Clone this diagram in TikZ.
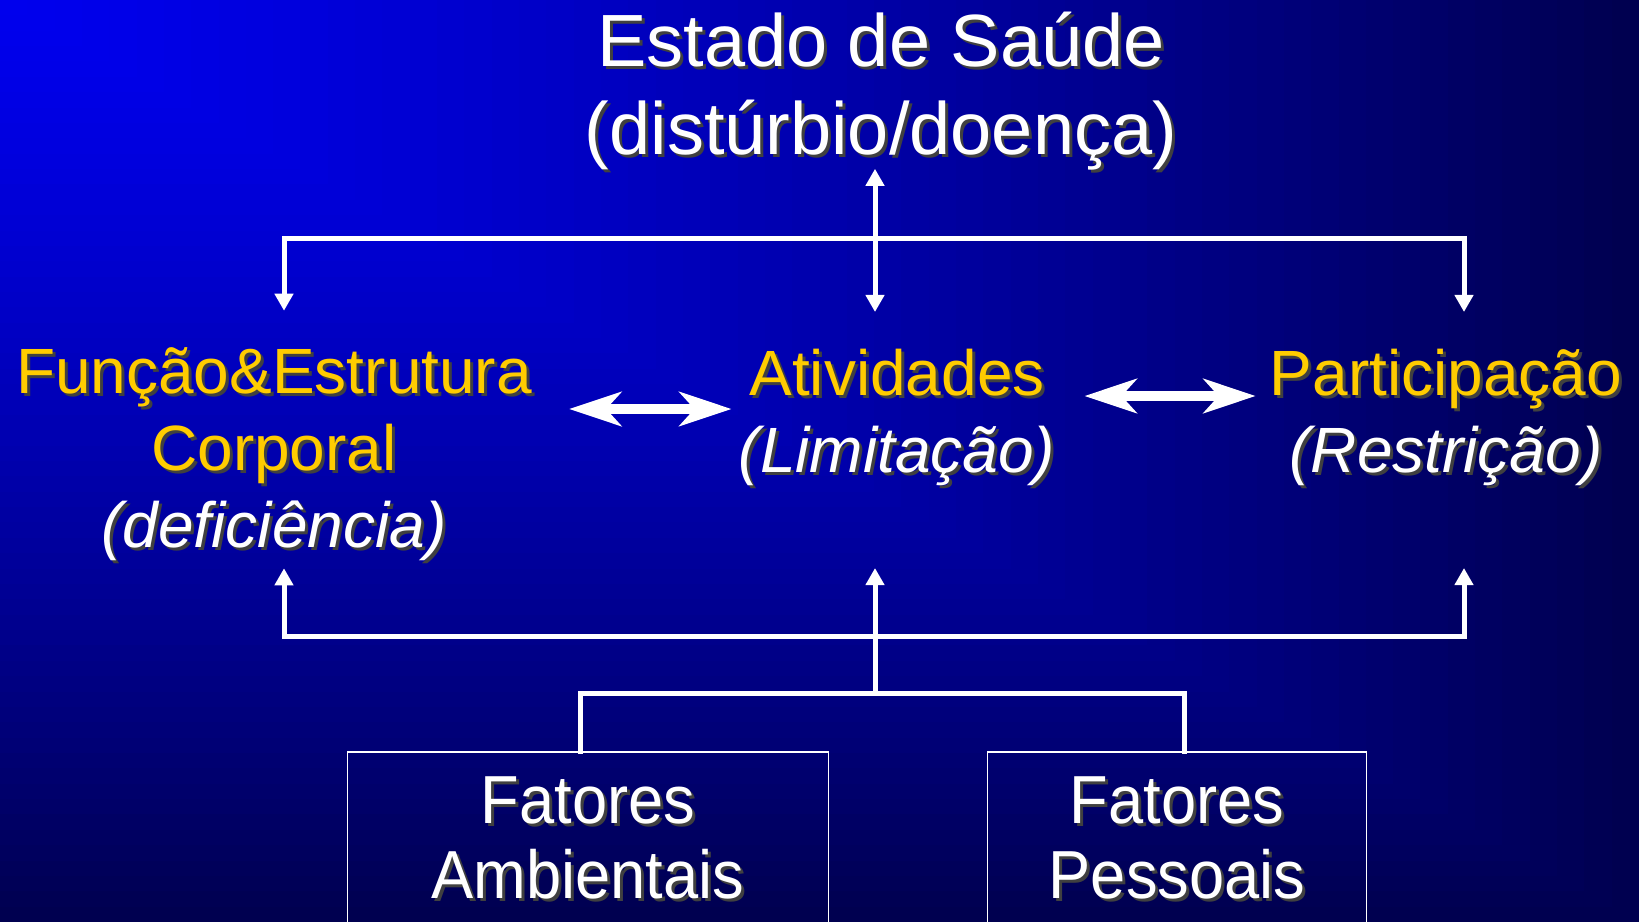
\documentclass[tikz,border=0pt]{standalone}
\usepackage{fontspec}
\setmainfont{Liberation Sans}
\newfontfamily\narrowsans[FakeStretch=0.93]{Liberation Sans}
\usetikzlibrary{arrows.meta}
\definecolor{bgtop}{RGB}{0,0,238}
\definecolor{bgbot}{RGB}{0,0,80}
\definecolor{icfyellow}{RGB}{255,204,0}
% text with a dark drop shadow
\newcommand{\shtxt}[2]{\leavevmode\rlap{\kern3pt\raisebox{-3pt}{\color{black!75}#2}}{\color{#1}#2}}
\begin{document}
\begin{tikzpicture}[x=1pt, y=-1pt,
  lbl/.style={inner sep=0pt, align=center, font=\fontsize{64}{77}\selectfont},
  link/.style={white, line width=5pt, line cap=rect},
  arrowend/.style={-{Triangle[length=17pt,width=18pt]}},
  bigarrow/.style={white, line width=10pt, {Stealth[length=52pt,width=34pt,inset=15pt]}-{Stealth[length=52pt,width=34pt,inset=15pt]}},
  factor/.style={draw=white, line width=1.5pt, inner sep=0pt, align=center, anchor=north, minimum height=176pt, font=\narrowsans\fontsize{68}{75}\selectfont}]
\useasboundingbox (0,0) rectangle (1639,922);
% background, brightest in the upper left corner
\foreach \i in {0,...,59}{
  \pgfmathsetmacro{\s}{1-\i/60}
  \pgfmathsetmacro{\p}{100*(1-\s^1.3)}
  \fill[bgtop!\p!bgbot] (0,0) rectangle (1639*\s,922*\s);
}
\node[lbl, font=\fontsize{74}{88}\selectfont] (saude) at (881,93) {\shtxt{white}{Estado de Saúde}\\\shtxt{white}{(distúrbio/doença)}};
\node[lbl] (funcao) at (274,456) {\shtxt{icfyellow}{Função\&Estrutura}\\\shtxt{icfyellow}{Corporal}\\\shtxt{white}{\itshape(deficiência)}};
\node[lbl] (ativ) at (897,419) {\shtxt{icfyellow}{Atividades}\\\shtxt{white}{\itshape(Limitação)}};
\node[lbl] (partic) at (1446,419) {\shtxt{icfyellow}{Participação}\\\shtxt{white}{\itshape(Restrição)}};
\node[factor, minimum width=481pt] (amb) at (588,751) {\shtxt{white}{Fatores}\\\shtxt{white}{Ambientais}};
\node[factor, minimum width=379pt] (pes) at (1177,751) {\shtxt{white}{Fatores}\\\shtxt{white}{Pessoais}};
\coordinate (tl) at (284,238);
\coordinate (tm) at (875,238);
\coordinate (tr) at (1464,238);
\coordinate (bl) at (284,636);
\coordinate (bm) at (875,636);
\coordinate (br) at (1464,636);
\coordinate (bj) at (875,693);
\draw[link] (tl) -- (tr);
\draw[link, arrowend, shorten >=-5pt] (tm) -- (tm |- saude.south);
\draw[link, arrowend, shorten >=37pt] (tl) -- (tl |- funcao.north);
\draw[link, arrowend, shorten >=37pt] (tm) -- (tm |- ativ.north);
\draw[link, arrowend, shorten >=37pt] (tr) -- (tr |- partic.north);
\draw[link] (bl) -- (br);
\draw[link, arrowend, shorten >=4pt] (bl) -- (bl |- funcao.south);
\draw[link, arrowend, shorten >=79pt] (bm) -- (bm |- ativ.south);
\draw[link, arrowend, shorten >=79pt] (br) -- (br |- partic.south);
\draw[link] (bm) -- (bj);
\draw[link] ([xshift=-8pt]amb.north) |- (bj) -| ([xshift=7pt]pes.north);
\draw[bigarrow, shorten <=37pt, shorten >=7pt] ([yshift=10pt]funcao.east |- ativ.west) -- ([yshift=10pt]ativ.west);
\draw[bigarrow, shorten <=29pt, shorten >=14pt] ([yshift=23pt]ativ.east) -- ([yshift=23pt]ativ.east -| partic.west);
\end{tikzpicture}
\end{document}
